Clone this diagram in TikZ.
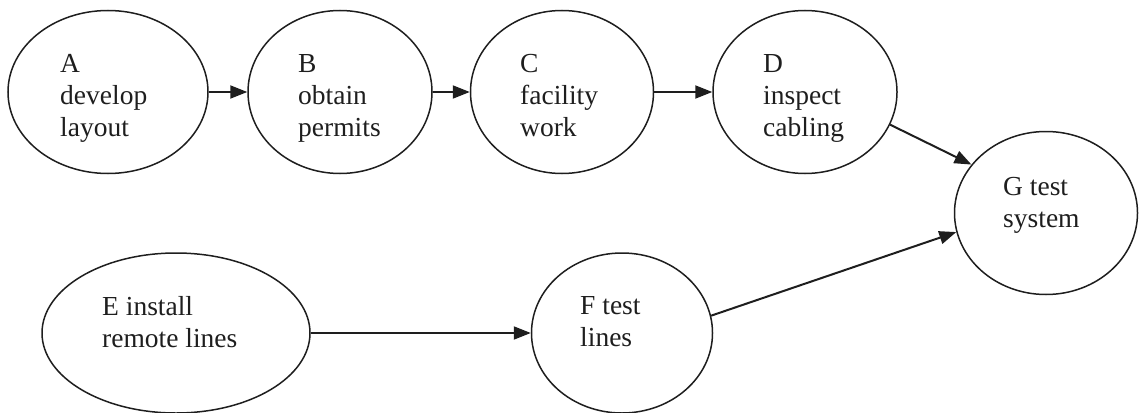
\documentclass[tikz,border=0pt]{standalone}
\usepackage{fontspec}
\setmainfont{Liberation Serif}
\usetikzlibrary{arrows.meta,shapes.geometric}
\definecolor{ink}{HTML}{1E1E1E}
\begin{document}
\begin{tikzpicture}[x=1pt,y=-1pt,
  task/.style={ellipse,draw=ink,line width=1.5pt,inner sep=0pt},
  lbl/.style={anchor=north west,align=left,inner sep=0pt,text=ink,
    font=\fontsize{27.5}{32}\selectfont},
  flow/.style={draw=ink,line width=2pt,-{Triangle[length=17pt,width=13pt]}}]
\useasboundingbox (0,0) rectangle (1139,412);

% activity ellipses
\node[task,minimum width=200pt,minimum height=163pt] (A) at (108,92) {};
\node[task,minimum width=184pt,minimum height=163pt] (B) at (340,92) {};
\node[task,minimum width=183pt,minimum height=163pt] (C) at (562,92) {};
\node[task,minimum width=184pt,minimum height=163pt] (D) at (805,92) {};
\node[task,minimum width=183pt,minimum height=163pt] (G) at (1046,213) {};
\node[task,minimum width=268pt,minimum height=160pt] (E) at (176,333) {};
\node[task,minimum width=181pt,minimum height=160pt] (F) at (622,333) {};

% activity labels
\node[lbl] (At) at (60,54) {A\\develop\\layout};
\node[lbl] (Bt) at (298,54) {B\\obtain\\permits};
\node[lbl] (Ct) at (520,54) {C\\facility\\work};
\node[lbl] (Dt) at (763,54) {D\\inspect\\cabling};
\node[lbl] (Gt) at (1003,177) {G test\\system};
\node[lbl] (Et) at (102,296) {E install\\remote lines};
\node[lbl] (Ft) at (580,296) {F test\\lines};

% precedence arrows
\draw[flow] (A.east) -- (B.west);
\draw[flow] (B.east) -- (C.west);
\draw[flow] (C.east) -- (D.west);
\draw[flow] (D.-21) -- (G.147);
\draw[flow] (E.east) -- (F.west);
\draw[flow] (F.11) -- (G.192);
\end{tikzpicture}
\end{document}
